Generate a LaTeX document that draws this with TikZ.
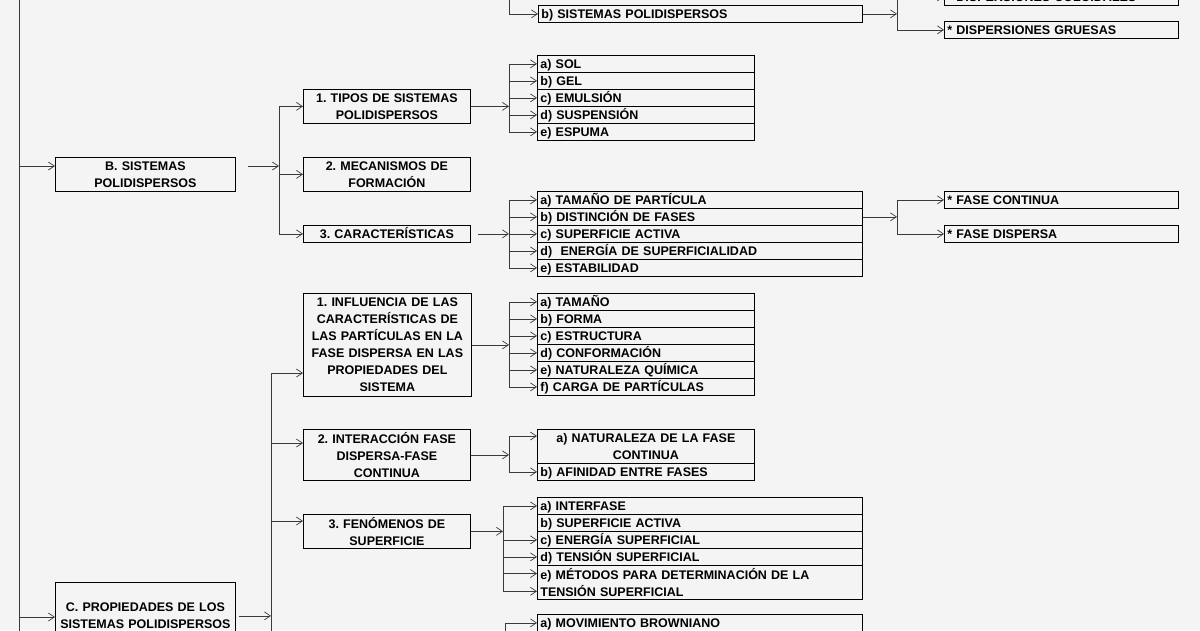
\documentclass[tikz,border=0pt]{standalone}
\usepackage{fontspec}
\setmainfont{Liberation Sans}
\usetikzlibrary{arrows.meta}
\usetikzlibrary{calc}

\definecolor{fondo}{HTML}{F4F4F4}
\definecolor{trazo}{HTML}{3A3A3A}
\newcommand{\letra}{\frenchspacing\bfseries\fontsize{12.5}{17}\selectfont}

\begin{document}
\begin{tikzpicture}[x=1pt,y=-1pt,
  borde/.style={draw=black,line width=0.8pt,anchor=north west,inner ysep=0pt,font=\letra},
  caja/.style={borde,align=center,inner xsep=0pt,text width=167pt},
  fila/.style={borde,align=left,inner xsep=3pt,minimum height=17pt,text height=9pt,text depth=0pt},
  corta/.style={fila,text width=211pt},
  larga/.style={fila,text width=319pt},
  fase/.style={fila,text width=228pt},
  flecha/.style={-{Straight Barb[length=6pt,width=8pt]},trazo,line width=0.7pt},
  linea/.style={trazo,line width=0.7pt}]

\useasboundingbox (0,0) rectangle (1200,630);
\fill[fondo] (0,0) rectangle (1200,630);
\clip (0,0) rectangle (1200,630);

% parte superior
\node[larga,text width=318pt] (bsis) at (538,5) {b) SISTEMAS POLIDISPERSOS};
\node[fase] (coloid) at (944,-12) {* DISPERSIONES COLOIDALES};
\node[fase] (grues) at (944,21) {* DISPERSIONES GRUESAS};

% B
\node[caja,text width=180pt,minimum height=34pt] (sisB) at (55,157) {B. SISTEMAS\\POLIDISPERSOS};
\node[caja,minimum height=34pt] (tipos) at (303,89) {1. TIPOS DE SISTEMAS\\POLIDISPERSOS};
\node[caja,minimum height=34pt] (mecan) at (303,157) {2. MECANISMOS DE\\FORMACIÓN};
\node[caja,minimum height=17pt,text height=9pt,text depth=0pt] (caract) at (303,225) {3. CARACTERÍSTICAS};

\node[corta] (ta) at (537,55) {a) SOL};
\node[corta] (tb) at (537,72) {b) GEL};
\node[corta] (tc) at (537,89) {c) EMULSIÓN};
\node[corta] (td) at (537,106) {d) SUSPENSIÓN};
\node[corta] (te) at (537,123) {e) ESPUMA};

\node[larga] (ca) at (537,191) {a) TAMAÑO DE PARTÍCULA};
\node[larga] (cb) at (537,208) {b) DISTINCIÓN DE FASES};
\node[larga] (cc) at (537,225) {c) SUPERFICIE ACTIVA};
\node[larga] (cd) at (537,242) {d)\ \ ENERGÍA DE SUPERFICIALIDAD};
\node[larga] (ce) at (537,259) {e) ESTABILIDAD};

\node[fase] (fcont) at (944,191) {* FASE CONTINUA};
\node[fase] (fdisp) at (944,225) {* FASE DISPERSA};

% C
\node[caja,text width=180pt,minimum height=67pt] (sisC) at (55,582) {C. PROPIEDADES DE LOS\\SISTEMAS POLIDISPERSOS};
\node[caja,text width=168pt,minimum height=103pt] (infl) at (303,293) {1. INFLUENCIA DE LAS\\CARACTERÍSTICAS DE\\LAS PARTÍCULAS EN LA\\FASE DISPERSA EN LAS\\PROPIEDADES DEL\\SISTEMA};
\node[caja,minimum height=51pt] (inter) at (303,429) {2. INTERACCIÓN FASE\\DISPERSA-FASE\\CONTINUA};
\node[caja,minimum height=34pt] (fenom) at (303,514) {3. FENÓMENOS DE\\SUPERFICIE};

\node[corta] (i1) at (537,293) {a) TAMAÑO};
\node[corta] (i2) at (537,310) {b) FORMA};
\node[corta] (i3) at (537,327) {c) ESTRUCTURA};
\node[corta] (i4) at (537,344) {d) CONFORMACIÓN};
\node[corta] (i5) at (537,361) {e) NATURALEZA QUÍMICA};
\node[corta] (i6) at (537,378) {f) CARGA DE PARTÍCULAS};

\node[borde,align=center,inner xsep=0pt,text width=217pt,minimum height=34pt] (na) at (537,429) {a) NATURALEZA DE LA FASE\\CONTINUA};
\node[corta] (nb) at (537,463) {b) AFINIDAD ENTRE FASES};

\node[larga] (fa) at (537,497) {a) INTERFASE};
\node[larga] (fb) at (537,514) {b) SUPERFICIE ACTIVA};
\node[larga] (fc) at (537,531) {c) ENERGÍA SUPERFICIAL};
\node[larga] (fd) at (537,548) {d) TENSIÓN SUPERFICIAL};
\node[borde,align=left,inner xsep=3pt,text width=319pt,minimum height=34pt] (fe) at (537,565) {e) MÉTODOS PARA DETERMINACIÓN DE LA\\TENSIÓN SUPERFICIAL};

\node[larga] (ma) at (537,614) {a) MOVIMIENTO BROWNIANO};

% eje principal
\coordinate (ejeSup) at (19,-10);
\coordinate (ejeInf) at (19,640);
\coordinate (lB) at (19,166);
\coordinate (lC) at (19,617);
\draw[linea] (ejeSup) -- (ejeInf);
\draw[flecha] (lB) -- (sisB.west |- lB); %B
\draw[flecha] (lC) -- (sisC.west |- lC); %C

% arriba
\coordinate (busA) at (509,-10);
\coordinate (busD) at (897,0);
\draw[linea] (busA) -- (busA |- bsis.west);
\draw[flecha] (busA |- bsis.west) -- (bsis.west);
\draw[flecha] (bsis.east) -- (busD |- bsis.east);
\draw[linea] (busD |- coloid.west) -- (busD |- grues.west);
\draw[flecha] (busD |- coloid.west) -- (coloid.west);
\draw[flecha] (busD |- grues.west) -- (grues.west);

% B -> 1, 2, 3
\coordinate (busB) at (279,0);
\coordinate (bB) at (279,166);
\draw[flecha,shorten <=12pt] (sisB.east |- bB) -- (bB);
\draw[linea] (busB |- tipos.west) -- (busB |- caract.west);
\draw[flecha] (busB |- tipos.west) -- (tipos.west); %1
\draw[flecha] (busB |- mecan.west) -- (mecan.west); %2
\draw[flecha] (busB |- caract.west) -- (caract.west); %3

% tipos
\coordinate (busT) at (509,0);
\draw[flecha] (tipos.east) -- (busT |- tipos.east);
\draw[linea] (busT |- ta.west) -- (busT |- te.west);
\draw[flecha] (busT |- ta.west) -- (ta.west);
\draw[flecha] (busT |- tb.west) -- (tb.west);
\draw[flecha] (busT |- tc.west) -- (tc.west);
\draw[flecha] (busT |- td.west) -- (td.west);
\draw[flecha] (busT |- te.west) -- (te.west);

% caracteristicas
\coordinate (busK) at (509,0);
\draw[flecha,shorten <=7pt] (caract.east) -- (busK |- caract.east);
\draw[linea] (busK |- ca.west) -- (busK |- ce.west);
\draw[flecha] (busK |- ca.west) -- (ca.west);
\draw[flecha] (busK |- cb.west) -- (cb.west);
\draw[flecha] (busK |- cc.west) -- (cc.west);
\draw[flecha] (busK |- cd.west) -- (cd.west);
\draw[flecha] (busK |- ce.west) -- (ce.west);

% fases
\coordinate (busF) at (897,0);
\draw[flecha] (cb.east) -- (busF |- cb.east);
\draw[linea] (busF |- fcont.west) -- (busF |- fdisp.west);
\draw[flecha] (busF |- fcont.west) -- (fcont.west);
\draw[flecha] (busF |- fdisp.west) -- (fdisp.west);

% C -> 1, 2, 3
\coordinate (busP) at (271,0);
\coordinate (p1) at (271,373);
\coordinate (p2) at (271,443);
\coordinate (p3) at (271,521);
\coordinate (pFin) at (271,640);
\draw[flecha,shorten <=3pt] (sisC.east) -- (busP |- sisC.east);
\draw[linea] (p1) -- (pFin);
\draw[flecha] (p1) -- (infl.west |- p1); %1
\draw[flecha] (p2) -- (inter.west |- p2); %2
\draw[flecha] (p3) -- (fenom.west |- p3); %3

% influencia
\coordinate (busI) at (509,0);
\draw[flecha] (infl.east) -- (busI |- infl.east);
\draw[linea] (busI |- i1.west) -- (busI |- i6.west);
\draw[flecha] (busI |- i1.west) -- (i1.west);
\draw[flecha] (busI |- i2.west) -- (i2.west);
\draw[flecha] (busI |- i3.west) -- (i3.west);
\draw[flecha] (busI |- i4.west) -- (i4.west);
\draw[flecha] (busI |- i5.west) -- (i5.west);
\draw[flecha] (busI |- i6.west) -- (i6.west);

% interaccion
\coordinate (busN) at (509,0);
\coordinate (na1) at ($(na.north west)+(0,7)$);
\draw[flecha] (inter.east) -- (busN |- inter.east);
\draw[linea] (busN |- na1) -- (busN |- nb.west);
\draw[flecha] (busN |- na1) -- (na1);
\draw[flecha] (busN |- nb.west) -- (nb.west);

% fenomenos
\coordinate (busM) at (503,0);
\coordinate (fe1) at ($(fe.north west)+(0,8.5)$);
\coordinate (fe2) at ($(fe.south west)+(0,-8.5)$);
\draw[flecha] (fenom.east) -- (busM |- fenom.east);
\draw[linea] (busM |- fa.west) -- (busM |- fe2);
\draw[flecha] (busM |- fa.west) -- (fa.west);
\draw[flecha] (busM |- fc.west) -- (fc.west);
\draw[flecha] (busM |- fd.west) -- (fd.west);
\draw[flecha] (busM |- fe1) -- (fe1);
\draw[flecha] (busM |- fe2) -- (fe2);

% abajo
\coordinate (busV) at (505,640);
\draw[linea] (busV |- ma.west) -- (busV);
\draw[flecha] (busV |- ma.west) -- (ma.west);

\end{tikzpicture}
\end{document}
